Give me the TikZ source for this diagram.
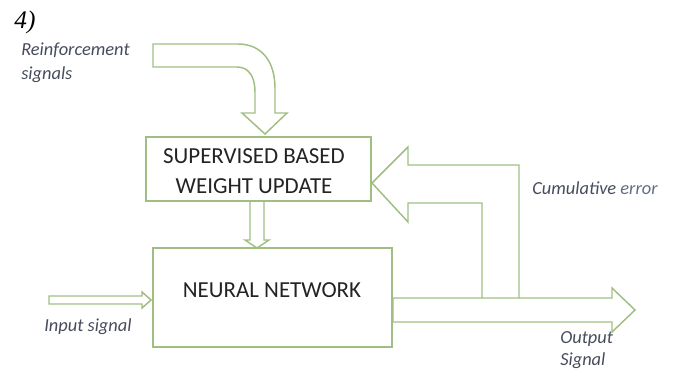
\documentclass[tikz,border=0pt]{standalone}
\usepackage{fontspec}
\setmainfont{Carlito}
\newfontfamily\timesfont{Liberation Serif}
\definecolor{linegreen}{RGB}{160,190,130}
\definecolor{labelgrey}{RGB}{70,76,92}
\definecolor{errorblue}{RGB}{95,110,135}
\definecolor{boxtext}{RGB}{35,35,35}
\begin{document}
\begin{tikzpicture}[x=0.75pt,y=-0.75pt,
  blockline/.style={draw=linegreen,line width=1.1pt,line join=miter},
  box/.style={blockline,rectangle,inner sep=0pt},
  boxlabel/.style={text=boxtext,font=\fontsize{17.2}{22}\selectfont,align=center,inner sep=0pt},
  sidelabel/.style={text=labelgrey,font=\fontsize{13.8}{18}\selectfont\itshape,inner sep=0pt}]
\useasboundingbox (0,0) rectangle (675,374);
% title
\node[font=\timesfont\itshape\fontsize{19}{22}\selectfont,inner sep=0pt] (num) at (25,22) {4)};
% boxes
\node[box,minimum width=168.75pt,minimum height=48pt] (sup) at (258.5,169) {};
\node[boxlabel] (suptext) at (254,171) {SUPERVISED BASED\\WEIGHT UPDATE};
\node[box,minimum width=179.25pt,minimum height=74.25pt] (nn) at (272.5,297.5) {};
\node[boxlabel] (nntext) at (272,290) {NEURAL NETWORK};
% reinforcement block arrow
\draw[blockline] (153,44) -- (238,44) .. controls (262,44) and (275,62) .. (275,88)
  -- (275,113) -- (287,113) -- (265,134) -- (242,113) -- (255,113) -- (255,92)
  .. controls (255,77) and (249,67) .. (237,67) -- (153,67) -- cycle;
% small arrow between boxes
\draw[blockline] (250,201) -- (250,240) -- (245,240) -- (257,248) -- (269,240) -- (264,240) -- (264,201);
% feedback block arrow
\draw[blockline] (482,298) -- (482,203) -- (408,203) -- (408,222) -- (372,183)
  -- (408,147) -- (408,165) -- (519,165) -- (519,298);
% output block arrow
\draw[blockline] (393,298) -- (612,298) -- (612,288) -- (635,310) -- (612,332)
  -- (612,322) -- (393,322) -- cycle;
% input block arrow
\draw[blockline] (49,296) -- (142,296) -- (142,292) -- (151,300) -- (142,308)
  -- (142,304) -- (49,304) -- cycle;
% labels
\node[sidelabel,anchor=west,align=left] (reinf) at (21,63) {Reinforcement\\signals};
\node[sidelabel,anchor=west] (inp) at (44,327) {Input signal};
\node[sidelabel,anchor=west] (cum) at (532,188) {Cumulative \textcolor{errorblue}{error}};
\node[sidelabel,anchor=west,align=left,font=\fontsize{13.8}{17}\selectfont\itshape] (outp) at (560,350) {Output\\Signal};
\end{tikzpicture}
\end{document}
